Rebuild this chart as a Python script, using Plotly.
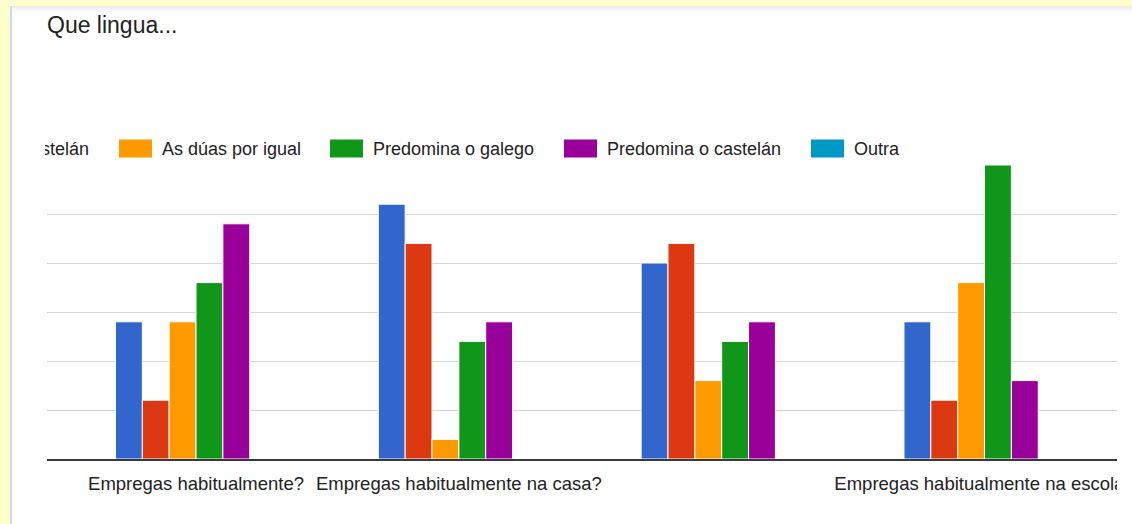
import plotly.graph_objects as go

# ── Data ────────────────────────────────────────────────────────────────────
CATEGORIES = [
    'Empregas habitualmente?',
    'Empregas habitualmente na casa?',
    'Empregas habitualmente cos amigos?',
    'Empregas habitualmente na escola?',
]
# Google hides every other label when they would overlap
TICK_TEXT = [CATEGORIES[0], CATEGORIES[1], '', CATEGORIES[3]]

SERIES = ['Só galego', 'Só castelán', 'As dúas por igual',
          'Predomina o galego', 'Predomina o castelán', 'Outra']
SO_GALEGO      = [7, 13, 10, 7]
SO_CASTELAN    = [3, 11, 11, 3]
AS_DUAS        = [7, 1, 4, 9]
PRED_GALEGO    = [9, 6, 6, 15]
PRED_CASTELAN  = [12, 7, 7, 4]
OUTRA          = [0, 0, 0, 0]
VALUES = [SO_GALEGO, SO_CASTELAN, AS_DUAS, PRED_GALEGO, PRED_CASTELAN, OUTRA]

# ── Style ───────────────────────────────────────────────────────────────────
COLORS = ['#3366CC', '#DC3912', '#FF9900', '#109618', '#990099', '#0099C6']
TEXT = '#222222'
FONT = 'Arial, Liberation Sans, sans-serif'
YELLOW = '#FFFFCC'
EDGE = '#C5DDE2'

W, H = 1132, 524
L, R, T, B = 47, 15, 165, 65


def px(x):
    return (x - L) / (W - L - R)


def py(y):
    return (H - B - y) / (H - T - B)


fig = go.Figure()
for name, vals, col in zip(SERIES, VALUES, COLORS):
    fig.add_trace(go.Bar(
        x=CATEGORIES, y=vals, name=name,
        marker=dict(color=col, line=dict(color='white', width=1)),
        showlegend=False,
    ))

shapes = [
    # yellow page frame
    dict(type='rect', xref='paper', yref='paper', x0=px(0), x1=px(W), y0=py(0), y1=py(6),
         fillcolor=YELLOW, line=dict(width=0), layer='below'),
    dict(type='rect', xref='paper', yref='paper', x0=px(0), x1=px(10), y0=py(0), y1=py(H),
         fillcolor=YELLOW, line=dict(width=0), layer='below'),
    dict(type='line', xref='paper', yref='paper', x0=px(11), x1=px(11), y0=py(6), y1=py(H),
         line=dict(color=EDGE, width=2), layer='below'),
]
# soft shadow under the top edge
for i, a in enumerate([0.07, 0.045, 0.025, 0.01]):
    shapes.append(dict(type='rect', xref='paper', yref='paper',
                       x0=px(12), x1=px(W), y0=py(6 + 2 * i), y1=py(8 + 2 * i),
                       fillcolor=f'rgba(0,0,0,{a})', line=dict(width=0), layer='below'))

# legend (scrolled: first entries out of view)
LEG_SWATCH_X = [None, None, 119, 330, 564, 811]
LEG_Y = 148.5
annotations = []
for name, col, sx in zip(SERIES, COLORS, LEG_SWATCH_X):
    if sx is None:
        continue
    shapes.append(dict(type='rect', xref='paper', yref='paper',
                       x0=px(sx), x1=px(sx + 33), y0=py(LEG_Y + 9), y1=py(LEG_Y - 9),
                       fillcolor=col, line=dict(width=0)))
    annotations.append(dict(xref='paper', yref='paper', x=px(sx + 41), y=py(LEG_Y),
                            xanchor='left', yanchor='middle', showarrow=False, text=name,
                            font=dict(size=18, color=TEXT, family=FONT)))
annotations.append(dict(xref='paper', yref='paper', x=px(91), y=py(LEG_Y),
                        xanchor='right', yanchor='middle', showarrow=False, text=SERIES[1],
                        font=dict(size=18, color=TEXT, family=FONT)))
# mask the part of the legend scrolled out of view (frame, edge line, white panel)
for x0, w, bg in [(-4, 14, YELLOW), (10, 2, EDGE), (12, 33, 'white')]:
    annotations.append(dict(xref='paper', yref='paper', x=px(x0), y=py(LEG_Y),
                            xanchor='left', yanchor='middle', showarrow=False, text=' ',
                            width=w, height=28, bgcolor=bg, borderpad=0, borderwidth=0,
                            font=dict(size=4)))

# clip the last category label at the chart edge
shapes.append(dict(type='rect', xref='paper', yref='paper',
                   x0=px(1117), x1=px(W + 20), y0=py(H), y1=py(462),
                   fillcolor='white', line=dict(width=0), layer='above'))

fig.update_layout(
    width=W, height=H,
    margin=dict(l=L, r=R, t=T, b=B, pad=0),
    paper_bgcolor='white', plot_bgcolor='white',
    font=dict(family=FONT, color=TEXT, size=18),
    title=dict(text='Que lingua...', x=0, xref='paper', xanchor='left',
               y=1 - 25 / H, yanchor='middle',
               font=dict(size=23, color=TEXT, family=FONT)),
    barmode='group', bargap=0.387, bargroupgap=0,
    shapes=shapes, annotations=annotations,
    xaxis=dict(type='category', range=[-0.567, 3.504], showgrid=False, automargin=False,
               showline=True, linecolor='#3A3A3A', linewidth=2,
               tickmode='array', tickvals=CATEGORIES, ticktext=TICK_TEXT,
               tickfont=dict(size=18.5, color=TEXT), ticks='', ticklabelstandoff=7,
               fixedrange=True),
    yaxis=dict(range=[0, 15], dtick=2.5, showgrid=True, gridcolor='#D6D6D6',
               gridwidth=1, zeroline=False, showticklabels=False, automargin=False,
               fixedrange=True),
)

fig.write_html('out.html', config=dict(displayModeBar=False),
               post_script="document.body.style.margin='0';")
